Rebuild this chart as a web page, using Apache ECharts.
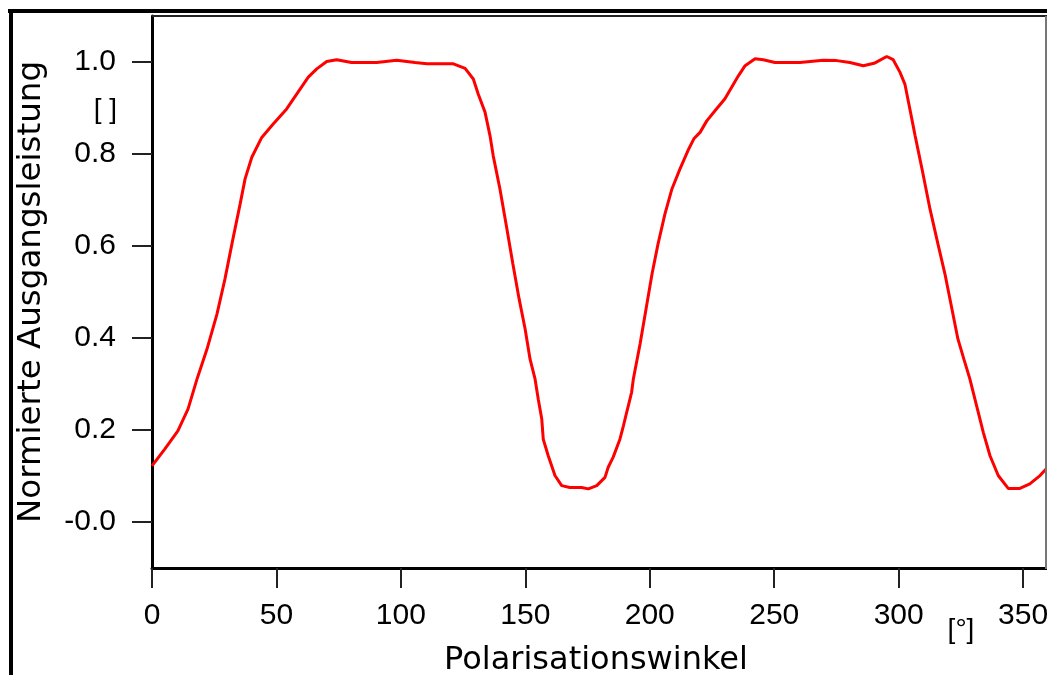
<!DOCTYPE html>
<html>
<head>
<meta charset="utf-8">
<script src="https://cdn.jsdelivr.net/npm/echarts@6/dist/echarts.min.js"></script>
<style>
html,body{margin:0;padding:0;background:#fff;}
#chart{width:1047px;height:675px;}
</style>
</head>
<body>
<div id="chart"></div>
<script>
// Polarisation angle [deg]
const angles = [0,5.2,10.4,14.5,18.1,22.1,26.1,29.3,32.5,35.4,37.4,40.1,44.1,48.7,54.1,59.5,62.8,66.2,70.2,74.2,80.2,90.3,98.3,105.7,110.4,121.1,125.8,129.1,131.1,133.8,135.8,137.1,139.8,142.6,145.0,147.5,149.9,151.9,153.9,155.2,156.6,157.2,159.2,161.9,164.6,167.9,172.6,175.3,178.7,182.0,183.3,185.3,188.0,189.4,190.7,192.7,193.4,196.1,198.5,200.9,203.3,206.1,208.9,212.1,215.3,217.7,220.2,222.9,226.2,230.2,232.9,235.6,238.3,242.3,245.6,250.3,260.3,269.7,275.1,280.4,285.8,290.5,295.2,297.8,300.5,302.5,304.5,306.6,309.4,312.6,315.8,318.6,321.4,323.8,326.2,328.6,331.3,334.0,336.7,340.0,344.0,348.7,352.7,356.8,359.5];
// Normalised output power
const power = [0.122,0.159,0.198,0.246,0.311,0.376,0.452,0.528,0.615,0.691,0.746,0.793,0.836,0.865,0.898,0.941,0.967,0.985,1.001,1.005,0.999,0.999,1.004,0.999,0.996,0.996,0.986,0.963,0.930,0.891,0.840,0.796,0.724,0.637,0.561,0.485,0.420,0.354,0.311,0.267,0.224,0.180,0.144,0.101,0.079,0.075,0.075,0.072,0.079,0.097,0.119,0.141,0.180,0.209,0.238,0.282,0.311,0.387,0.463,0.539,0.604,0.670,0.724,0.767,0.807,0.833,0.847,0.872,0.894,0.920,0.945,0.970,0.992,1.007,1.005,0.999,0.999,1.004,1.003,0.999,0.992,0.998,1.012,1.005,0.978,0.952,0.898,0.840,0.767,0.680,0.604,0.539,0.463,0.398,0.354,0.311,0.253,0.195,0.144,0.101,0.073,0.073,0.083,0.101,0.117];

const xTickValues = [0,50,100,150,200,250,300,350];
const yTickValues = [0,0.2,0.4,0.6,0.8,1.0];
const yTickLabels = ['-0.0','0.2','0.4','0.6','0.8','1.0'];
const xTitle = 'Polarisationswinkel';
const yTitle = 'Normierte Ausgangsleistung';
const xUnit = '[°]';
const yUnit = '[ ]';

const chart = echarts.init(document.getElementById('chart'), null, {renderer: 'canvas'});
const numFont = "'Liberation Sans', Arial, sans-serif";
const titleFont = "'DejaVu Sans', sans-serif";

chart.setOption({
  animation: false,
  backgroundColor: '#fff',
  grid: {left: 152, top: 16, width: 896, height: 552, containLabel: false, outerBoundsMode: 'none'},
  xAxis: {
    type: 'value', min: 0, max: 360,
    name: xTitle, nameLocation: 'middle', nameGap: 77,
    nameTextStyle: {fontFamily: titleFont, fontSize: 32, color: '#000', padding: [0, 8, 0, 0]},
    axisLine: {show: true, onZero: false, lineStyle: {color: '#000', width: 3}},
    axisTick: {show: true, customValues: xTickValues, length: 20, lineStyle: {color: '#222', width: 2}},
    axisLabel: {customValues: xTickValues, margin: 33, fontFamily: numFont, fontSize: 30, color: '#000'},
    splitLine: {show: false}
  },
  yAxis: {
    type: 'value', min: -0.1, max: 1.1,
    name: yTitle, nameLocation: 'middle', nameGap: 104,
    nameTextStyle: {fontFamily: titleFont, fontSize: 32.5, color: '#000'},
    axisLine: {show: true, onZero: false, lineStyle: {color: '#000', width: 3}},
    axisTick: {show: true, customValues: yTickValues, length: 20, lineStyle: {color: '#222', width: 2}},
    axisLabel: {
      customValues: yTickValues, margin: 36, fontFamily: numFont, fontSize: 30, color: '#000',
      formatter: function (v) {
        for (let i = 0; i < yTickValues.length; i++) {
          if (Math.abs(yTickValues[i] - v) < 1e-6) return yTickLabels[i];
        }
        return '';
      }
    },
    splitLine: {show: false}
  },
  graphic: [
    {type: 'rect', shape: {x: 8, y: 9, width: 1039, height: 4}, style: {fill: '#000'}, z: 100},
    {type: 'rect', shape: {x: 9, y: 9, width: 4, height: 666}, style: {fill: '#000'}, z: 100},
    {type: 'line', shape: {x1: 152, y1: 16, x2: 1047, y2: 16}, style: {stroke: '#222', lineWidth: 2}, z: 100},
    {type: 'line', shape: {x1: 1046, y1: 16, x2: 1046, y2: 569}, style: {stroke: '#777', lineWidth: 2}, z: 100},
    {type: 'text', x: 117, y: 110, style: {text: yUnit, font: "28px 'Liberation Sans', Arial, sans-serif", fill: '#000', textAlign: 'right', textVerticalAlign: 'middle'}},
    {type: 'text', x: 961, y: 630, style: {text: xUnit, font: "28px 'Liberation Sans', Arial, sans-serif", fill: '#000', textAlign: 'center', textVerticalAlign: 'middle'}}
  ],
  series: [{
    type: 'line',
    data: angles.map((a, i) => [a, power[i]]),
    showSymbol: false,
    smooth: false,
    lineStyle: {color: '#ff0000', width: 3},
    itemStyle: {color: '#ff0000'},
    clip: true
  }]
});
</script>
</body>
</html>
